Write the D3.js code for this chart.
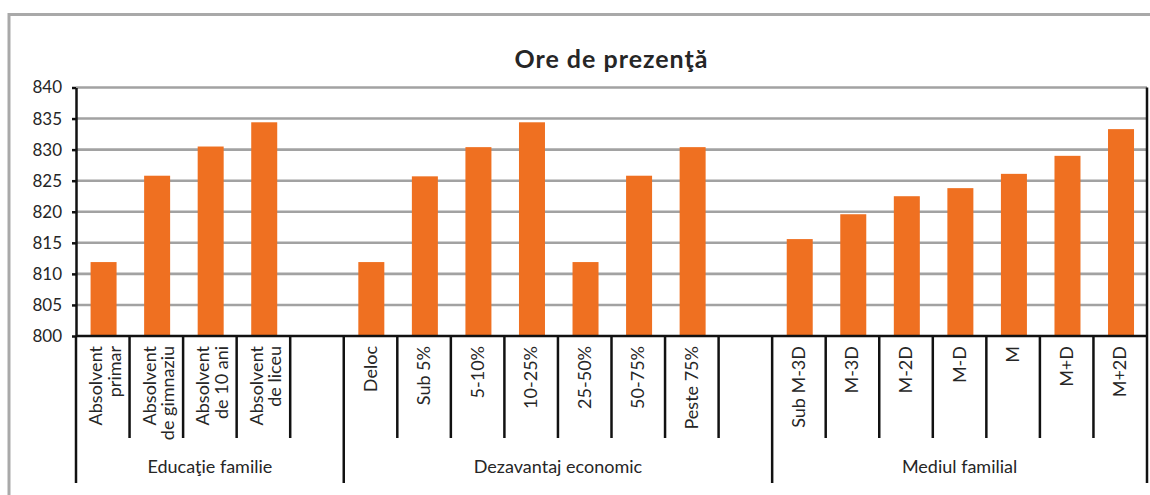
<!DOCTYPE html>
<html>
<head>
<meta charset="utf-8">
<script src="https://cdn.jsdelivr.net/npm/d3@7/dist/d3.min.js"></script>
<style>
  html, body { margin: 0; padding: 0; background: #fff; }
  svg { display: block; }
  text { font-family: Lato, "Open Sans", sans-serif; fill: #262626; }
</style>
</head>
<body>
<svg id="chart" width="1150" height="495"></svg>
<script>
// ---- data ----
const title = "Ore de prezenţă";
const groupNames = ["Educaţie familie", "Dezavantaj economic", "Mediul familial"];
const educatieLabels = ["Absolvent\nprimar", "Absolvent\nde gimnaziu", "Absolvent\nde 10 ani", "Absolvent\nde liceu"];
const educatieValues = [811.9, 825.8, 830.5, 834.4];
const dezavantajLabels = ["Deloc", "Sub 5%", "5-10%", "10-25%", "25-50%", "50-75%", "Peste 75%"];
const dezavantajValues = [811.9, 825.7, 830.4, 834.4, 811.9, 825.8, 830.4];
const mediulLabels = ["Sub M-3D", "M-3D", "M-2D", "M-D", "M", "M+D", "M+2D"];
const mediulValues = [815.6, 819.6, 822.5, 823.8, 826.1, 829.0, 833.3];
const groupEmptySlots = [1, 1, 0];   // blank category slot after each group
const yTicks = [800, 805, 810, 815, 820, 825, 830, 835, 840];
const yDomain = [800, 840];

// ---- build slot table ----
const groupLabels = [educatieLabels, dezavantajLabels, mediulLabels];
const groupValues = [educatieValues, dezavantajValues, mediulValues];
const slots = [];
const groupSpans = [];
groupLabels.forEach((labs, g) => {
  const start = slots.length;
  labs.forEach((l, i) => slots.push({ id: "s" + slots.length, label: l, value: groupValues[g][i], group: g }));
  for (let k = 0; k < groupEmptySlots[g]; k++) slots.push({ id: "s" + slots.length, label: null, value: null, group: g });
  groupSpans.push({ name: groupNames[g], start, end: slots.length });
});

const svg = d3.select("#chart");
const plotL = 76, plotR = 1147, plotT = 87.5, plotB = 336;

const x = d3.scaleBand().domain(slots.map(d => d.id)).range([plotL, plotR]).padding(0);
const y = d3.scaleLinear().domain(yDomain).range([plotB, plotT]);
const bw = x.bandwidth();

// frame
svg.append("path")
  .attr("d", `M9,495 L9,14.5 L1150,14.5`)
  .attr("fill", "none").attr("stroke", "#a9a9a9").attr("stroke-width", 3);

// title
svg.append("text")
  .attr("x", (plotL + plotR) / 2).attr("y", 68)
  .attr("text-anchor", "middle")
  .style("font-size", "25px").style("font-weight", "bold")
  .style("letter-spacing", "1px")
  .text(title);

// gridlines
svg.append("g").selectAll("line")
  .data(yTicks.filter(t => t !== yDomain[0]))
  .join("line")
  .attr("x1", plotL).attr("x2", plotR)
  .attr("y1", d => y(d)).attr("y2", d => y(d))
  .attr("stroke", "#a2a2a2").attr("stroke-width", 2.6);

// bars
svg.append("g").selectAll("rect")
  .data(slots.filter(d => d.value !== null))
  .join("rect")
  .attr("x", d => x(d.id) + bw / 2 - 13 + 0.8)
  .attr("width", 26)
  .attr("y", d => y(d.value))
  .attr("height", d => y(yDomain[0]) - y(d.value))
  .attr("fill", "#ef7021");

// y axis
const yAxis = d3.axisLeft(y).tickValues(yTicks).tickSize(4).tickSizeOuter(0).tickPadding(10);
const ya = svg.append("g").attr("transform", `translate(${plotL},0)`).call(yAxis);
ya.select(".domain").attr("stroke", "#111").attr("stroke-width", 2.5);
ya.selectAll(".tick line").attr("stroke", "#111").attr("stroke-width", 2.5);
ya.selectAll(".tick text").style("font-size", "17px").style("font-family", "Lato, sans-serif").attr("fill", "#262626");

// x baseline
svg.append("line")
  .attr("x1", plotL).attr("x2", plotR)
  .attr("y1", y(yDomain[0])).attr("y2", y(yDomain[0]))
  .attr("stroke", "#111").attr("stroke-width", 2.5);

// slot boundary ticks
const groupBounds = new Set([0].concat(groupSpans.map(s => s.end)));
const bounds = d3.range(slots.length + 1);
svg.append("g").selectAll("line")
  .data(bounds)
  .join("line")
  .attr("x1", i => i < slots.length ? x(slots[i].id) : plotR)
  .attr("x2", i => i < slots.length ? x(slots[i].id) : plotR)
  .attr("y1", i => i === slots.length ? plotT : plotB)
  .attr("y2", i => groupBounds.has(i) ? 483 : 438)
  .attr("stroke", "#111").attr("stroke-width", 2.5);

// category labels (rotated)
const catG = svg.append("g").selectAll("text")
  .data(slots.filter(d => d.label !== null))
  .join("text")
  .attr("transform", d => `translate(${x(d.id) + bw / 2},346) rotate(-90)`)
  .attr("text-anchor", "end")
  .style("font-size", "18px");
catG.each(function (d) {
  const lines = d.label.split("\n");
  const t = d3.select(this);
  const offs = lines.length === 1 ? [6] : [-0.5, 18];
  lines.forEach((l, i) => t.append("tspan").attr("x", 0).attr("y", offs[i]).text(l));
});

// group labels
svg.append("g").selectAll("text")
  .data(groupSpans)
  .join("text")
  .attr("x", s => (x(slots[s.start].id) + (s.end < slots.length ? x(slots[s.end].id) : plotR)) / 2)
  .attr("y", 473)
  .attr("text-anchor", "middle")
  .style("font-size", "18px")
  .text(s => s.name);
</script>
</body>
</html>
